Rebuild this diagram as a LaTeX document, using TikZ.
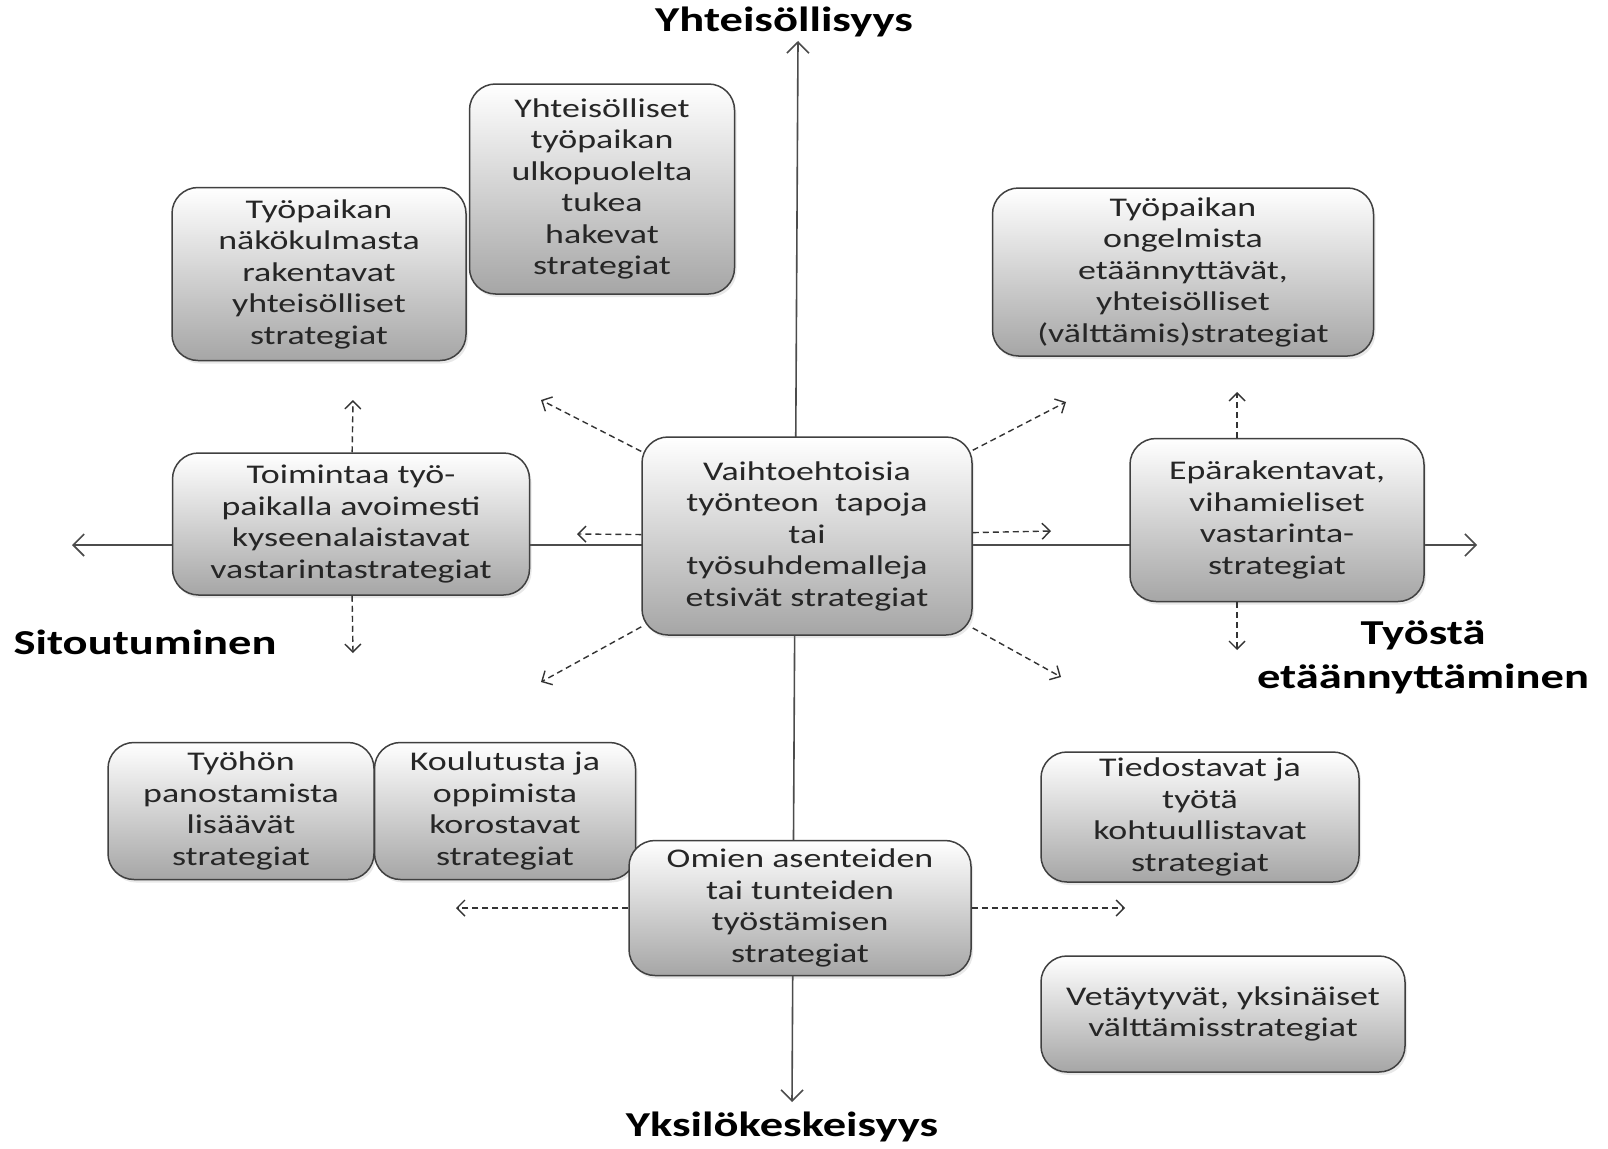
\documentclass[tikz,border=0pt]{standalone}
\usepackage{fontspec}
\setmainfont[FakeStretch=1.33]{Carlito}
\usetikzlibrary{arrows.meta,shadows}

\begin{document}
\begin{tikzpicture}[x=1pt, y=-1pt,
  box/.style={rectangle, draw=black!75, line width=1.5pt, rounded corners=26pt,
              top color=white, bottom color=black!35, align=center,
              text=black!85, inner sep=4pt,
              font=\fontsize{27}{31.5}\selectfont,
              drop shadow={opacity=0.18, shadow xshift=2pt, shadow yshift=-3pt}},
  axlabel/.style={font=\fontsize{35}{44}\selectfont\bfseries, align=center},
  axis/.style={{Straight Barb[length=11pt,width=22pt]}-{Straight Barb[length=11pt,width=22pt]},
               line width=1.6pt, black!70},
  dasharrow/.style={-{Straight Barb[length=8pt,width=16pt]}, line width=1.4pt,
                    dash pattern=on 6pt off 4pt, black!80}
]
\path[use as bounding box, fill=white] (0,0) rectangle (1608,1148);

\coordinate (ytop) at (798,41);
\coordinate (ybot) at (792,1102);
\coordinate (xlft) at (72,545);
\coordinate (xrgt) at (1477,545);
\draw[axis] (ybot) -- (ytop);
\draw[axis] (xlft) -- (xrgt);

\node[axlabel] (yht) at (784,22) {Yhteisöllisyys};
\node[axlabel] (sit) at (145,642) {Sitoutuminen};
\node[axlabel] (eta) at (1423,657) {Työstä\\etäännyttäminen};
\node[axlabel] (yks) at (782,1127) {Yksilökeskeisyys};

\node[box, minimum width=294pt, minimum height=173pt] (wk) at (319,274)
  {Työpaikan\\näkökulmasta\\rakentavat\\yhteisölliset\\strategiat};
\node[box, minimum width=265pt, minimum height=210pt] (tuki) at (602,189)
  {Yhteisölliset\\työpaikan\\ulkopuolelta\\tukea\\hakevat\\strategiat};
\node[box, minimum width=381pt, minimum height=168pt] (ong) at (1183,272)
  {Työpaikan\\ongelmista\\etäännyttävät,\\yhteisölliset\\(välttämis)strategiat};
\node[box, minimum width=357pt, minimum height=142pt] (vast) at (351,524)
  {Toimintaa työ-\\paikalla avoimesti\\kyseenalaistavat\\vastarintastrategiat};
\node[box, minimum width=330pt, minimum height=198pt] (ctr) at (807,536)
  {Vaihtoehtoisia\\työnteon\ \ tapoja\\tai\\työsuhdemalleja\\etsivät strategiat};
\node[box, minimum width=294pt, minimum height=163pt] (epa) at (1277,520)
  {Epärakentavat,\\vihamieliset\\vastarinta-\\strategiat};
\node[box, minimum width=266pt, minimum height=137pt] (pan) at (241,811)
  {Työhön\\panostamista\\lisäävät\\strategiat};
\node[box, minimum width=261pt, minimum height=137pt] (kou) at (505,811)
  {Koulutusta ja\\oppimista\\korostavat\\strategiat};
\node[box, minimum width=342pt, minimum height=135pt] (omi) at (800,908)
  {Omien asenteiden\\tai tunteiden\\työstämisen\\strategiat};
\node[box, minimum width=318pt, minimum height=130pt] (tie) at (1200,817)
  {Tiedostavat ja\\työtä\\kohtuullistavat\\strategiat};
\node[box, minimum width=364pt, minimum height=116pt] (vet) at (1223,1014)
  {Vetäytyvät, yksinäiset\\välttämisstrategiat};

\coordinate (cul) at (541,400);
\coordinate (cur) at (1066,402);
\coordinate (cdl) at (541,682);
\coordinate (cdr) at (1061,677);
\coordinate (cl) at (577,534);
\coordinate (cr) at (1051,531);
\coordinate (vu) at (353,400);
\coordinate (vd) at (353,653);
\coordinate (eu) at (1237,392);
\coordinate (ed) at (1237,650);
\coordinate (ol) at (456,908);
\coordinate (or) at (1125,908);

\draw[dasharrow] (ctr) -- (cul);
\draw[dasharrow] (ctr) -- (cur);
\draw[dasharrow] (ctr) -- (cdl);
\draw[dasharrow] (ctr) -- (cdr);
\draw[dasharrow] (ctr) -- (cl);
\draw[dasharrow] (ctr) -- (cr);
\draw[dasharrow] (vast) -- (vu);
\draw[dasharrow] (vast) -- (vd);
\draw[dasharrow] (eu |- epa.north) -- (eu);
\draw[dasharrow] (ed |- epa.south) -- (ed);
\draw[dasharrow] (omi) -- (ol);
\draw[dasharrow] (omi) -- (or);

\end{tikzpicture}
\end{document}
